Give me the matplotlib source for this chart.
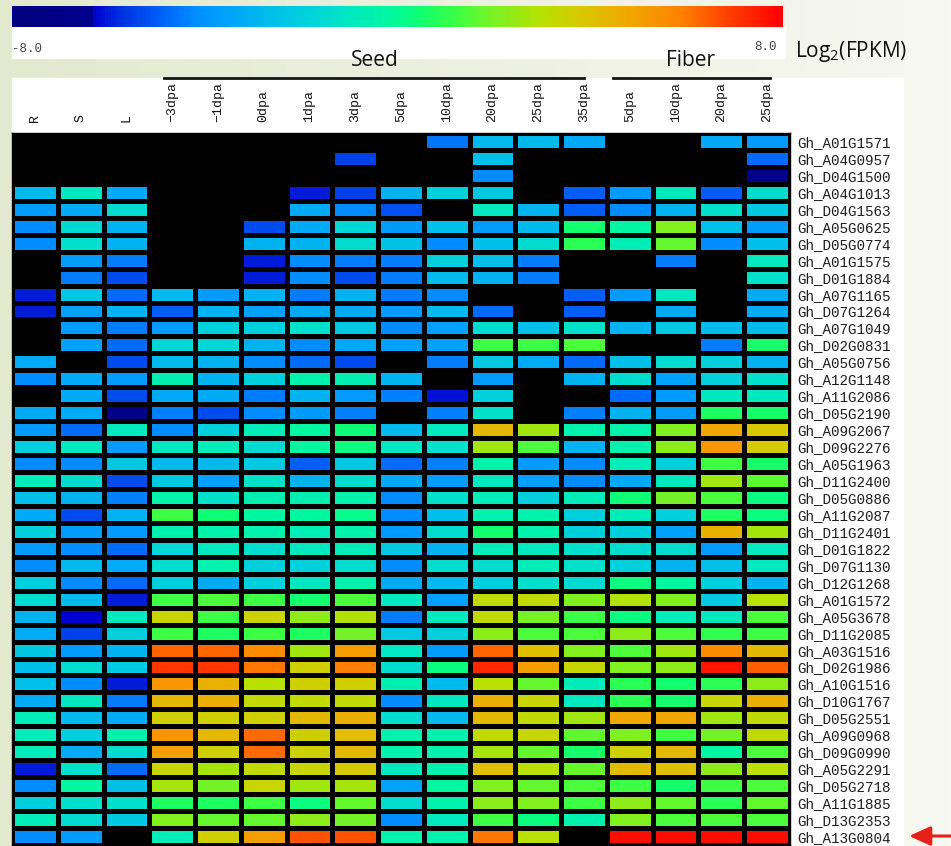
import numpy as np
import matplotlib
matplotlib.use("Agg")
import matplotlib.pyplot as plt
from matplotlib.colors import LinearSegmentedColormap, Normalize
from matplotlib.patches import Rectangle, FancyArrowPatch
from matplotlib.lines import Line2D

plt.rcParams["mathtext.fontset"] = "custom"
plt.rcParams["mathtext.rm"] = "Open Sans"

X = None  # no expression value (drawn black)

genes = [
    "Gh_A01G1571", "Gh_A04G0957", "Gh_D04G1500", "Gh_A04G1013", "Gh_D04G1563",
    "Gh_A05G0625", "Gh_D05G0774", "Gh_A01G1575", "Gh_D01G1884", "Gh_A07G1165",
    "Gh_D07G1264", "Gh_A07G1049", "Gh_D02G0831", "Gh_A05G0756", "Gh_A12G1148",
    "Gh_A11G2086", "Gh_D05G2190", "Gh_A09G2067", "Gh_D09G2276", "Gh_A05G1963",
    "Gh_D11G2400", "Gh_D05G0886", "Gh_A11G2087", "Gh_D11G2401", "Gh_D01G1822",
    "Gh_D07G1130", "Gh_D12G1268", "Gh_A01G1572", "Gh_A05G3678", "Gh_D11G2085",
    "Gh_A03G1516", "Gh_D02G1986", "Gh_A10G1516", "Gh_D10G1767", "Gh_D05G2551",
    "Gh_A09G0968", "Gh_D09G0990", "Gh_A05G2291", "Gh_D05G2718", "Gh_A11G1885",
    "Gh_D13G2353", "Gh_A13G0804",
]

tissue_cols = ["R", "S", "L"]
seed_cols = ["\u22123dpa", "\u22121dpa", "0dpa", "1dpa", "3dpa", "5dpa",
             "10dpa", "20dpa", "25dpa", "35dpa"]
fiber_cols = ["5dpa", "10dpa", "20dpa", "25dpa"]

# log2(FPKM), one row per gene
tissue = [
    [X, X, X], [X, X, X], [X, X, X], [-2.8, -1.0, -3.3], [-3.8, -3.3, -1.5],
    [-4.2, -1.6, -3.0], [-4.2, -1.3, -3.0], [X, -3.8, -4.5], [X, -4.5, -5.3], [-6.0, -2.2, -4.8],
    [-6.0, -3.6, -3.0], [X, -3.8, -4.5], [X, -3.6, -4.8], [-3.3, X, -5.3], [-4.2, -3.3, -3.8],
    [X, -3.3, -5.3], [-3.3, -3.3, -6.8], [-3.8, -4.8, -1.0], [-2.0, -1.0, -3.8], [-4.2, -4.2, -2.2],
    [-0.8, -1.5, -5.3], [-2.6, -3.0, -4.4], [-3.3, -5.3, -3.0], [-2.0, -3.8, -3.8], [-3.8, -4.2, -4.8],
    [-4.2, -2.8, -3.3], [-2.0, -4.2, -4.8], [-1.5, -2.8, -6.0], [-3.0, -6.3, -1.0], [-3.3, -5.5, -2.0],
    [-2.2, -3.8, -3.0], [-2.6, -1.5, -2.2], [-2.6, -4.2, -6.0], [-3.3, -1.0, -4.5], [-0.8, -2.8, -3.3],
    [-0.8, -2.0, -0.5], [-0.8, -3.3, -1.5], [-6.0, -1.3, -4.8], [-4.2, -0.2, -2.6], [-2.0, -1.3, -1.3],
    [-0.8, -1.5, -2.2], [-4.2, -3.8, X],
]

seed = [
    [X, X, X, X, X, X, -4.6, -2.8, -2.8, -3.3],
    [X, X, X, X, -5.5, X, X, -2.6, X, X],
    [X, X, X, X, X, X, X, -4.2, X, X],
    [X, X, X, -6.0, -5.5, -3.0, -2.0, -2.2, X, -5.0],
    [X, X, X, -3.3, -4.2, -5.2, X, -1.0, -3.0, -5.0],
    [X, X, -5.3, -3.3, -1.7, -3.8, -2.6, -3.8, -2.8, 0.5],
    [X, X, -3.0, -3.0, -1.5, -2.5, -4.2, -2.6, -1.5, 0.9],
    [X, X, -6.0, -4.2, -4.5, -4.5, -2.0, -2.6, -4.5, X],
    [X, X, -6.0, -4.2, -5.3, -4.5, -2.8, -3.0, -4.5, X],
    [-2.8, -3.8, -3.0, -4.5, -3.0, -4.5, -4.2, X, X, -5.0],
    [-5.0, -3.0, -3.6, -3.3, -3.3, -3.8, -2.8, -4.8, X, -5.0],
    [-3.8, -2.0, -2.0, -1.3, -2.2, -4.2, -3.6, -1.5, -2.6, -1.3],
    [-1.7, -1.7, -3.0, -4.2, -3.3, -3.6, -3.6, 1.2, 1.2, 1.4],
    [-2.8, -3.0, -4.2, -4.8, -5.3, X, -4.5, -2.2, -3.3, -4.8],
    [-0.6, -3.0, -2.0, -0.5, -0.6, -3.0, X, -3.8, X, -3.0],
    [-3.3, -3.3, -4.5, -3.0, -3.8, -4.4, -6.1, -2.0, X, X],
    [-4.4, -5.3, -4.2, -3.8, -4.4, X, -4.4, -1.3, X, -4.4],
    [-4.2, -2.0, -0.8, -0.2, 0.4, -2.8, -1.0, 4.3, 2.6, -0.5],
    [-1.0, -0.8, -1.5, -0.2, 0.3, -1.0, -1.3, 2.6, 1.4, -3.0],
    [-2.8, -2.8, -2.2, -5.0, -2.2, -4.8, -4.4, -0.4, -3.8, -4.2],
    [-2.2, -3.6, -1.2, -3.0, -1.4, -3.3, -3.8, -1.0, -3.6, -4.2],
    [-0.4, -1.2, -0.6, -0.6, -0.4, -4.2, -1.3, -0.8, -2.0, -0.8],
    [1.2, 0.4, -0.2, -0.2, 0.1, -4.2, -2.6, -0.5, -0.5, -2.0],
    [-0.5, -0.5, -0.5, -0.8, -0.5, -3.8, -1.5, 0.5, -0.5, -2.0],
    [-1.7, -1.0, -1.4, -1.0, -0.8, -2.2, -3.0, -0.8, -1.0, -1.3],
    [-1.4, -0.5, -2.0, -2.0, -1.4, -4.2, -1.4, -1.5, -0.8, -1.3],
    [-2.0, -3.3, -2.0, -1.0, -0.5, -3.3, -2.8, -2.0, -1.3, -1.5],
    [1.2, 1.4, 1.2, 0.5, 1.4, -1.0, -3.6, 3.2, 3.2, 2.1],
    [3.4, 1.2, 3.5, 2.3, 2.9, -4.5, -1.0, 3.2, 1.9, 1.2],
    [1.2, 0.7, 1.2, 0.7, 1.9, -2.2, -2.0, 2.3, 1.4, 1.4],
    [6.3, 6.3, 5.6, 2.6, 5.1, -1.0, -3.8, 6.3, 4.1, 2.1],
    [7.0, 7.0, 6.0, 3.6, 5.9, -1.4, 0.3, 7.3, 5.1, 3.4],
    [5.3, 4.5, 3.0, 3.6, 3.6, -0.6, -2.8, 3.0, 1.7, -0.8],
    [4.3, 4.5, 3.3, 3.2, 3.2, -4.2, -1.0, 4.5, 3.4, -1.0],
    [3.6, 3.6, 3.6, 4.3, 4.5, -1.4, -2.8, 4.3, 3.2, 2.6],
    [5.3, 4.3, 6.2, 3.6, 4.1, -0.5, -0.5, 3.2, 3.4, 1.7],
    [5.0, 3.6, 6.2, 3.6, 4.3, -0.5, -0.5, 2.7, 1.7, 0.6],
    [3.4, 2.7, 3.2, 3.4, 3.8, -1.0, -0.5, 4.1, 3.0, 1.7],
    [2.7, 1.9, 3.4, 2.6, 2.7, -3.6, -0.2, 2.1, 1.7, 1.4],
    [0.7, 0.7, 1.2, 0.3, 1.7, -1.4, -0.5, 2.3, 2.1, 1.2],
    [2.1, 1.7, 1.7, 2.3, 1.9, -4.2, -1.0, 1.2, 0.3, -0.5],
    [-0.8, 3.6, 5.1, 6.6, 6.6, -0.5, -0.5, 6.0, 3.0, X],
]

fiber = [
    [X, X, -3.3, -3.8], [X, X, X, -4.8], [X, X, X, -6.5], [-3.8, -0.9, -5.0, -1.5],
    [-4.2, -3.0, -1.3, -2.2], [-0.3, 2.1, -2.6, -3.8], [-0.7, 1.7, -4.2, -2.6],
    [X, -4.5, X, -0.9], [X, X, X, -1.3], [-3.8, -0.9, X, -3.3],
    [X, -3.3, X, -3.3], [-3.0, -2.2, -2.8, -2.8], [X, X, -4.5, 0.6],
    [-2.6, -1.5, -2.0, -3.0], [-1.5, -3.6, -2.0, -1.3], [-4.8, -3.8, -0.9, -1.0],
    [-3.0, -3.8, 0.7, 0.6], [-0.4, 2.1, 4.8, 3.8], [-0.5, 2.3, 5.2, 3.8],
    [-0.8, -2.0, 1.2, 0.6], [-3.3, -1.0, 2.6, 1.6], [0.4, 1.9, 1.4, 0.3],
    [-0.8, -2.0, 0.7, 0.3], [-2.0, -3.6, 4.5, 2.7], [-1.5, -1.5, -3.8, -1.0],
    [-2.0, -3.0, -2.6, -1.0], [0.3, -0.2, -2.0, -3.0], [2.9, 2.1, -2.2, 3.0],
    [0.3, -0.8, -1.0, 1.4], [2.3, 1.4, 1.0, 1.2], [1.4, 2.6, 5.6, 4.3],
    [2.1, 2.3, 7.6, 6.4], [0.9, 0.5, 0.9, 2.3], [0.9, 0.5, 3.4, 4.5],
    [4.8, 4.8, 2.6, 3.2], [2.1, 1.2, 1.9, 3.2], [3.6, 4.3, -0.2, 1.4],
    [4.3, 4.1, 2.3, 3.0], [1.2, 0.5, 1.2, 1.4], [2.3, 1.7, 0.9, 1.7],
    [2.1, 1.4, 1.4, 1.4], [7.8, 7.8, 7.8, 7.8],
]

W, H = 951, 846


def fx(px):
    return px / W


def fy(py):
    return 1 - py / H


data = np.hstack([np.array(tissue, dtype=float),
                  np.array(seed, dtype=float),
                  np.array(fiber, dtype=float)])
col_labels = tissue_cols + seed_cols + fiber_cols
n_rows, n_cols = data.shape

cmap = LinearSegmentedColormap.from_list("fpkm", [
    (0.0, "#000080"), (0.103, "#00008c"), (0.105, "#0000d0"), (0.14, "#0030e0"),
    (0.19, "#0060f8"), (0.24, "#0090ff"), (0.29, "#00a8f8"), (0.34, "#00c0e8"),
    (0.39, "#00d4d8"), (0.44, "#00e8c0"), (0.49, "#00f8a0"), (0.53, "#10ff70"),
    (0.58, "#40ff40"), (0.63, "#80f020"), (0.69, "#b8e000"), (0.74, "#d8c800"),
    (0.80, "#f0a800"), (0.87, "#ff8000"), (0.93, "#ff4000"), (1.0, "#ff0000"),
])
cmap.set_bad("black")
norm = Normalize(vmin=-8, vmax=8)

fig = plt.figure(figsize=(W / 100, H / 100), dpi=100)

# slide background
bg = fig.add_axes([0, 0, 1, 1], zorder=-10)
grad = np.linspace(0, 1, 256).reshape(1, -1)
bg.imshow(grad, aspect="auto", extent=[0, 1, 0, 1],
          cmap=LinearSegmentedColormap.from_list("bg", ["#e3e9cf", "#f7f8f1"]))
bg.axis("off")

# white boxes behind colour key and heatmap
fig.add_artist(Rectangle((fx(12), fy(58)), fx(785) - fx(12), (58 - 27) / H,
                         transform=fig.transFigure, color="white", zorder=-5))
fig.add_artist(Rectangle((fx(12), 0), fx(903) - fx(12), fy(78),
                         transform=fig.transFigure, color="white", zorder=-5))

mono = ["Liberation Mono", "DejaVu Sans Mono"]

ax = fig.add_axes([fx(12), fy(845), fx(790) - fx(12), (845 - 133) / H])
ax.set_facecolor("black")
mesh = ax.pcolormesh(np.ma.masked_invalid(data), cmap=cmap, norm=norm,
                     edgecolors="black", linewidth=2.2)
ax.set_xlim(0, n_cols)
ax.set_ylim(n_rows, 0)
ax.xaxis.tick_top()
ax.set_xticks(np.arange(n_cols) + 0.5)
ax.set_xticklabels(col_labels, rotation=90, fontsize=9.5, color="#111",
                   fontfamily=mono)
ax.yaxis.tick_right()
ax.set_yticks(np.arange(n_rows) + 0.5)
ax.set_yticklabels(genes, fontsize=10.3, color="#1e1e1e", fontfamily=mono)
ax.tick_params(axis="x", length=0, pad=8)
ax.tick_params(axis="y", length=0, pad=5)
for s in ax.spines.values():
    s.set_color("black")
    s.set_linewidth(1)

# colour key
cax = fig.add_axes([fx(12), fy(27), fx(783) - fx(12), (27 - 6) / H])
cb = fig.colorbar(mesh, cax=cax, orientation="horizontal")
cb.set_ticks([])
cb.outline.set_visible(False)

fig.text(fx(12), fy(49), "-8.0", ha="left", va="center", fontsize=9,
         color="#444", family=mono)
fig.text(fx(777), fy(47), "8.0", ha="right", va="center", fontsize=9,
         color="#444", family=mono)
fig.text(fx(795), fy(52), r"Log$_\mathregular{2}$(FPKM)", ha="left", va="center",
         fontsize=15, family="Open Sans", color="#111")

# group headers
fig.text(fx(375), fy(60), "Seed", ha="center", va="center", fontsize=15,
         family="Open Sans", color="#111")
fig.text(fx(691), fy(61), "Fiber", ha="center", va="center", fontsize=15,
         family="Open Sans", color="#111")
fig.add_artist(Line2D([fx(164), fx(584)], [fy(78), fy(78)], color="#151515",
                      lw=2, transform=fig.transFigure, zorder=3))
fig.add_artist(Line2D([fx(613), fx(770)], [fy(78), fy(78)], color="#151515",
                      lw=2, transform=fig.transFigure, zorder=3))

# highlight arrow
fig.add_artist(FancyArrowPatch((fx(951), fy(836)), (fx(909), fy(836)),
                               transform=fig.transFigure,
                               arrowstyle="-|>,head_length=1.0,head_width=0.45",
                               mutation_scale=13, color="#e8201c", lw=2.2,
                               shrinkA=0, shrinkB=0, zorder=5))

fig.savefig("out.png", dpi=100)
